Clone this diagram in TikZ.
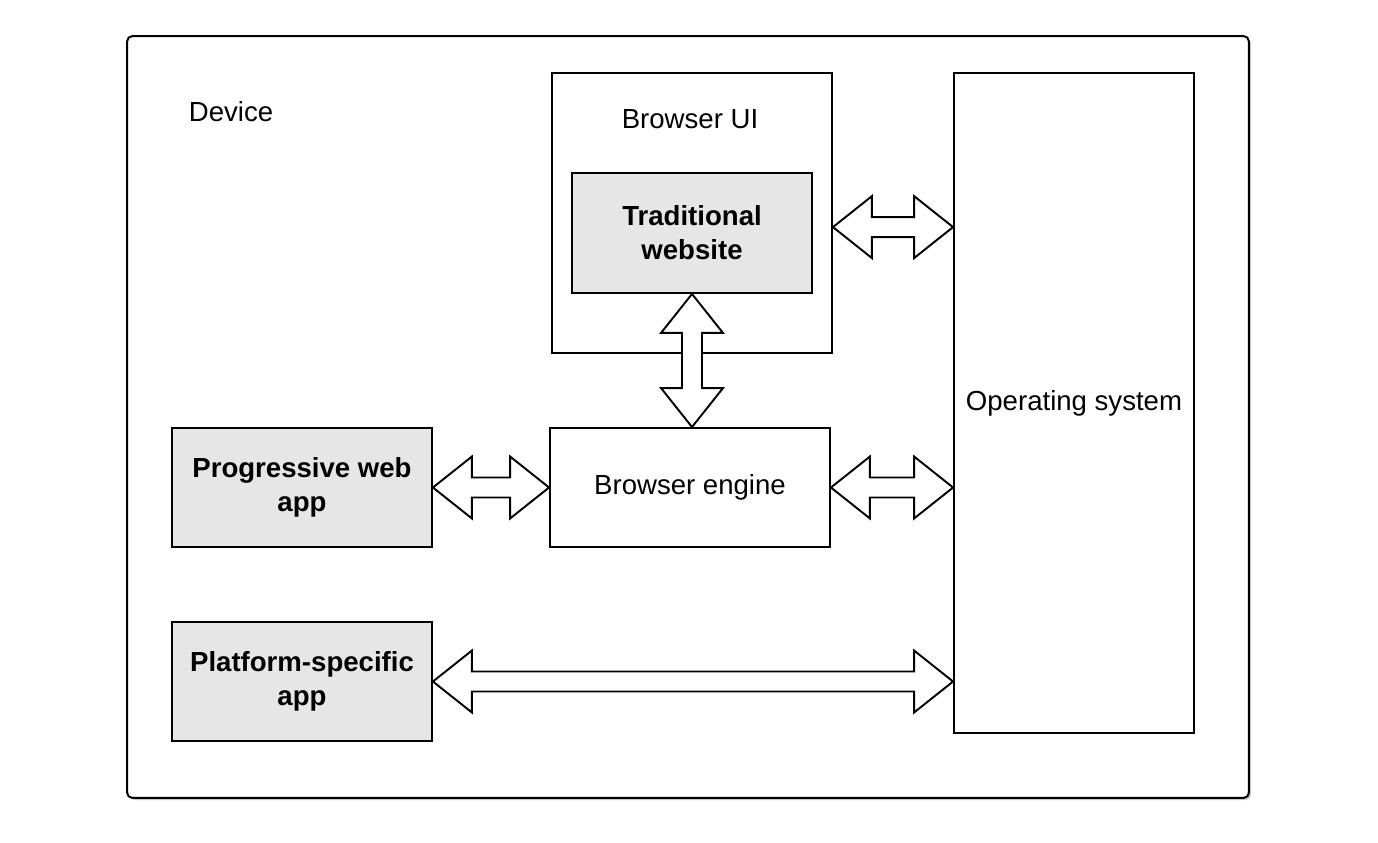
\documentclass[tikz,border=0pt]{standalone}
\usepackage{fontspec}
\setmainfont{Liberation Sans}
\usepackage{xcolor}
\usetikzlibrary{calc,shadows}

\definecolor{appgray}{HTML}{E6E6E6}

\tikzset{
  box/.style={draw, rectangle, line width=1.1pt, align=center, fill=white,
    font=\fontsize{15.7}{19.3}\selectfont},
  app/.style={box, fill=appgray, font=\fontsize{15.7}{19.3}\selectfont\bfseries},
  lbl/.style={font=\fontsize{15.7}{19.3}\selectfont},
  blockarrow/.style={draw, line width=1.1pt, fill=white, line join=miter},
}

% double block arrows, tip to tip
\newcommand{\harrow}[2]{%
  \draw[blockarrow] (#1) -- ++(39,-31) -- ++(0,21) -- ($(#2)+(-39,-10)$) -- ++(0,-21)
    -- (#2) -- ++(-39,31) -- ++(0,-21) -- ($(#1)+(39,10)$) -- ++(0,21) -- cycle;}
\newcommand{\varrow}[2]{%
  \draw[blockarrow] (#1) -- ++(31,39) -- ++(-21,0) -- ($(#2)+(10,-39)$) -- ++(21,0)
    -- (#2) -- ++(-31,-39) -- ++(21,0) -- ($(#1)+(-10,39)$) -- ++(-21,0) -- cycle;}

\begin{document}
\begin{tikzpicture}[x=0.02cm, y=-0.02cm]
\useasboundingbox (0,0) rectangle (1378,842);

\node[draw, line width=1.1pt, rounded corners=3pt, fill=white,
  drop shadow={shadow xshift=1.2pt, shadow yshift=-1.2pt, fill=black!22, opacity=1},
  minimum width=22.44cm, minimum height=15.24cm] (device) at (688,417) {};
\node[lbl]  (devlabel) at (231,112) {Device};

\node[box, minimum width=5.6cm, minimum height=5.6cm] (ui) at (692,213) {};
\node[lbl]  (uilabel) at (690,119) {Browser UI};
\node[app, minimum width=4.8cm, minimum height=2.4cm] (tw) at (692,233) {Traditional\\website};

\node[box, minimum width=4.8cm, minimum height=13.2cm] (os) at (1074,403) {Operating system};

\node[app, minimum width=5.2cm, minimum height=2.38cm] (pwa) at (302,487.5) {Progressive web\\app};
\node[box, minimum width=5.6cm, minimum height=2.38cm] (engine) at (690,487.5) {Browser engine};
\node[app, minimum width=5.2cm, minimum height=2.38cm] (psa) at (302,681.5) {Platform-specific\\app};

\coordinate (uiport) at ($(ui.north east)!0.55!(ui.south east)$);

\harrow{uiport}{os.west |- uiport}
\varrow{tw.south}{tw.south |- engine.north}
\harrow{pwa.east}{engine.west}
\harrow{engine.east}{os.west |- engine.east}
\harrow{psa.east}{os.west |- psa.east}
\end{tikzpicture}
\end{document}
